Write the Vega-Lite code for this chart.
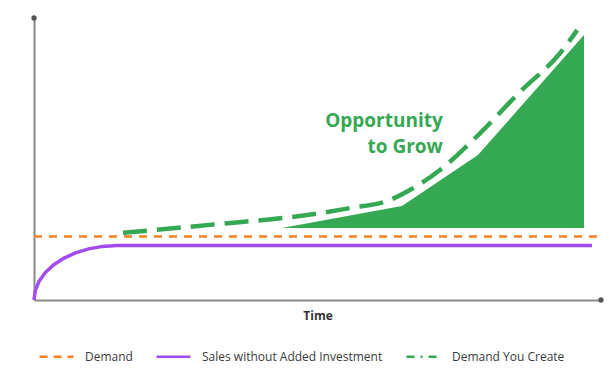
{
  "$schema": "https://vega.github.io/schema/vega-lite/v6.json",
  "width": 567,
  "height": 282,
  "autosize": {"type": "none"},
  "padding": {"left": 34, "top": 18, "right": 14, "bottom": 81},
  "config": {"view": {"stroke": null}, "font": "Open Sans"},
  "datasets": {
    "fill": [
      {"t": 4.37, "v": 2.55},
      {"t": 6.49, "v": 3.33},
      {"t": 7.83, "v": 5.14},
      {"t": 9.7, "v": 9.4}
    ],
    "lines": [
      {"series": "Demand", "t": 0, "v": 2.25},
      {"series": "Demand", "t": 9.95, "v": 2.25},
      {"series": "Sales without Added Investment", "t": 0, "v": 0},
      {"series": "Sales without Added Investment", "t": 0.022, "v": 0.335},
      {"series": "Sales without Added Investment", "t": 0.088, "v": 0.66},
      {"series": "Sales without Added Investment", "t": 0.196, "v": 0.965},
      {"series": "Sales without Added Investment", "t": 0.343, "v": 1.241},
      {"series": "Sales without Added Investment", "t": 0.523, "v": 1.478},
      {"series": "Sales without Added Investment", "t": 0.732, "v": 1.671},
      {"series": "Sales without Added Investment", "t": 0.963, "v": 1.814},
      {"series": "Sales without Added Investment", "t": 1.21, "v": 1.901},
      {"series": "Sales without Added Investment", "t": 1.464, "v": 1.93},
      {"series": "Sales without Added Investment", "t": 9.84, "v": 1.93},
      {"series": "Demand You Create", "t": 1.57, "v": 2.38},
      {"series": "Demand You Create", "t": 3.28, "v": 2.7},
      {"series": "Demand You Create", "t": 4.69, "v": 2.98},
      {"series": "Demand You Create", "t": 5.57, "v": 3.26},
      {"series": "Demand You Create", "t": 6.28, "v": 3.55},
      {"series": "Demand You Create", "t": 6.63, "v": 3.9},
      {"series": "Demand You Create", "t": 7.16, "v": 4.61},
      {"series": "Demand You Create", "t": 7.87, "v": 5.92},
      {"series": "Demand You Create", "t": 8.57, "v": 7.38},
      {"series": "Demand You Create", "t": 9.28, "v": 8.76},
      {"series": "Demand You Create", "t": 9.58, "v": 9.57}
    ],
    "ends": [
      {"t": 0, "v": 10},
      {"t": 10, "v": 0}
    ],
    "notes": [
      {"t": 7.21, "v": 6.13, "label": "Opportunity"},
      {"t": 7.21, "v": 5.21, "label": "to Grow"}
    ]
  },
  "layer": [
    {
      "data": {"name": "fill"},
      "mark": {"type": "area", "color": "#34A853", "opacity": 1},
      "encoding": {
        "x": {"field": "t", "type": "quantitative", "scale": {"domain": [0, 10], "nice": false, "zero": false},
          "axis": {"title": "Time", "titleFontWeight": "bold", "titleFontSize": 12, "titleColor": "#333333", "titlePadding": 10, "labels": false, "ticks": false, "grid": false, "domainColor": "#8a8a8a", "domainWidth": 2}},
        "y": {"field": "v", "type": "quantitative", "scale": {"domain": [0, 10], "nice": false, "zero": false},
          "axis": {"title": null, "labels": false, "ticks": false, "grid": false, "domainColor": "#8a8a8a", "domainWidth": 2}},
        "y2": {"datum": 2.55}
      }
    },
    {
      "data": {"name": "lines"},
      "transform": [{"filter": "datum.series === 'Demand'"}],
      "mark": {"type": "line", "strokeDash": [8, 7], "strokeWidth": 2.5},
      "encoding": {
        "x": {"field": "t", "type": "quantitative"},
        "y": {"field": "v", "type": "quantitative"},
        "color": {"field": "series", "type": "nominal",
          "scale": {"domain": ["Demand", "Sales without Added Investment", "Demand You Create"], "range": ["#F5821F", "#A24CF0", "#34A853"]},
          "legend": {"title": null, "orient": "none", "direction": "horizontal", "legendX": 4, "legendY": 320,
            "symbolType": "stroke", "symbolSize": 1150, "symbolStrokeWidth": 2.5, "labelOffset": 10, "columnPadding": 18,
            "labelFontSize": 12, "labelColor": "#3a3a3a", "labelLimit": 0, "padding": 0,
            "values": ["Demand", "Sales without Added Investment", "Demand You Create"],
            "encode": {"symbols": {"update": {"strokeDash": {"signal": "datum.value === 'Demand You Create' ? [8,6,2,6] : datum.value === 'Demand' ? [8,6] : [1,0]"}}}}}}
      }
    },
    {
      "data": {"name": "lines"},
      "transform": [{"filter": "datum.series === 'Sales without Added Investment'"}],
      "mark": {"type": "line", "strokeWidth": 3.5},
      "encoding": {
        "x": {"field": "t", "type": "quantitative"},
        "y": {"field": "v", "type": "quantitative"},
        "color": {"field": "series", "type": "nominal"}
      }
    },
    {
      "data": {"name": "lines"},
      "transform": [{"filter": "datum.series === 'Demand You Create'"}],
      "mark": {"type": "line", "strokeDash": [24, 10], "strokeWidth": 4.5, "interpolate": "monotone"},
      "encoding": {
        "x": {"field": "t", "type": "quantitative"},
        "y": {"field": "v", "type": "quantitative"},
        "color": {"field": "series", "type": "nominal"}
      }
    },
    {
      "data": {"name": "ends"},
      "mark": {"type": "point", "filled": true, "color": "#555555", "size": 28, "opacity": 1},
      "encoding": {
        "x": {"field": "t", "type": "quantitative"},
        "y": {"field": "v", "type": "quantitative"}
      }
    },
    {
      "data": {"name": "notes"},
      "mark": {"type": "text", "align": "right", "baseline": "alphabetic", "fontSize": 19, "fontWeight": "bold", "color": "#34A853"},
      "encoding": {
        "x": {"field": "t", "type": "quantitative"},
        "y": {"field": "v", "type": "quantitative"},
        "text": {"field": "label"}
      }
    }
  ]
}
